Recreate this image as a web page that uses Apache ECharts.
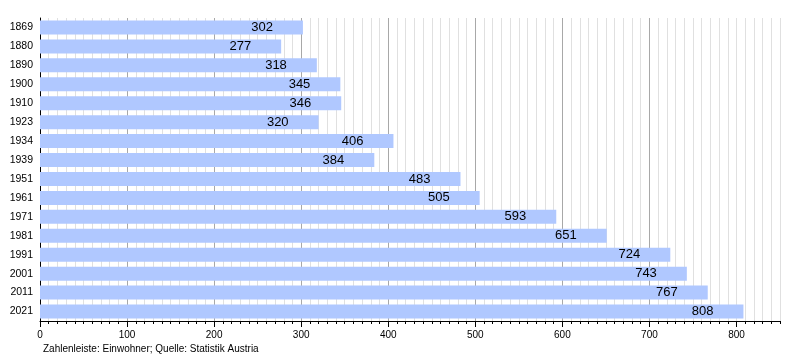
<!DOCTYPE html>
<html>
<head>
<meta charset="utf-8">
<script src="https://cdn.jsdelivr.net/npm/echarts@6/dist/echarts.min.js"></script>
<style>
html,body{margin:0;padding:0;background:#fff;}
#c{width:800px;height:360px;}
</style>
</head>
<body>
<div id="c"></div>
<script>
const years = ['1869','1880','1890','1900','1910','1923','1934','1939','1951','1961','1971','1981','1991','2001','2011','2021'];
const population = [302,277,318,345,346,320,406,384,483,505,593,651,724,743,767,808];
const majorTicks = [0,100,200,300,400,500,600,700,800];
const footer = 'Zahlenleiste: Einwohner; Quelle: Statistik Austria';

const FONT = '"Liberation Sans", Arial, sans-serif';
const chart = echarts.init(document.getElementById('c'), null, {renderer: 'canvas'});
chart.setOption({
  animation: false,
  backgroundColor: '#fff',
  grid: {left: 40, right: 20, top: 18, bottom: 39, containLabel: false},
  xAxis: [
    {
      type: 'value', min: 0, max: 850, interval: 10, position: 'bottom',
      axisLine: {show: true, lineStyle: {color: '#000', width: 1}},
      axisTick: {show: true, length: 3, lineStyle: {color: '#000'}},
      axisLabel: {show: false},
      splitLine: {show: true, showMinLine: false, lineStyle: {color: '#e0e0e0', width: 1}}
    },
    {
      type: 'value', min: 0, max: 850, interval: 100, position: 'bottom',
      axisLine: {show: false},
      axisTick: {show: true, length: 6, customValues: majorTicks, lineStyle: {color: '#000'}},
      axisLabel: {show: true, customValues: majorTicks, color: '#000', fontSize: 10, fontFamily: FONT, margin: 9},
      splitLine: {show: true, showMinLine: false, showMaxLine: false, lineStyle: {color: '#a8a8a8', width: 1}}
    }
  ],
  yAxis: {
    type: 'category', data: years, inverse: true,
    axisLine: {show: true, lineStyle: {color: '#000'}},
    axisTick: {show: false},
    axisLabel: {color: '#000', fontSize: 10.5, fontFamily: FONT, margin: 7},
    splitLine: {show: false}
  },
  graphic: [{
    type: 'text', left: 43, top: 344,
    style: {text: footer, fill: '#000', font: '10px ' + FONT}
  }],
  series: [{
    type: 'bar', data: population, xAxisIndex: 0, barWidth: 14,
    itemStyle: {color: 'rgb(176,200,255)'},
    label: {show: true, position: 'insideRight', distance: 30, color: '#000', fontSize: 13, fontFamily: FONT},
    z: 3
  }]
});
</script>
</body>
</html>
